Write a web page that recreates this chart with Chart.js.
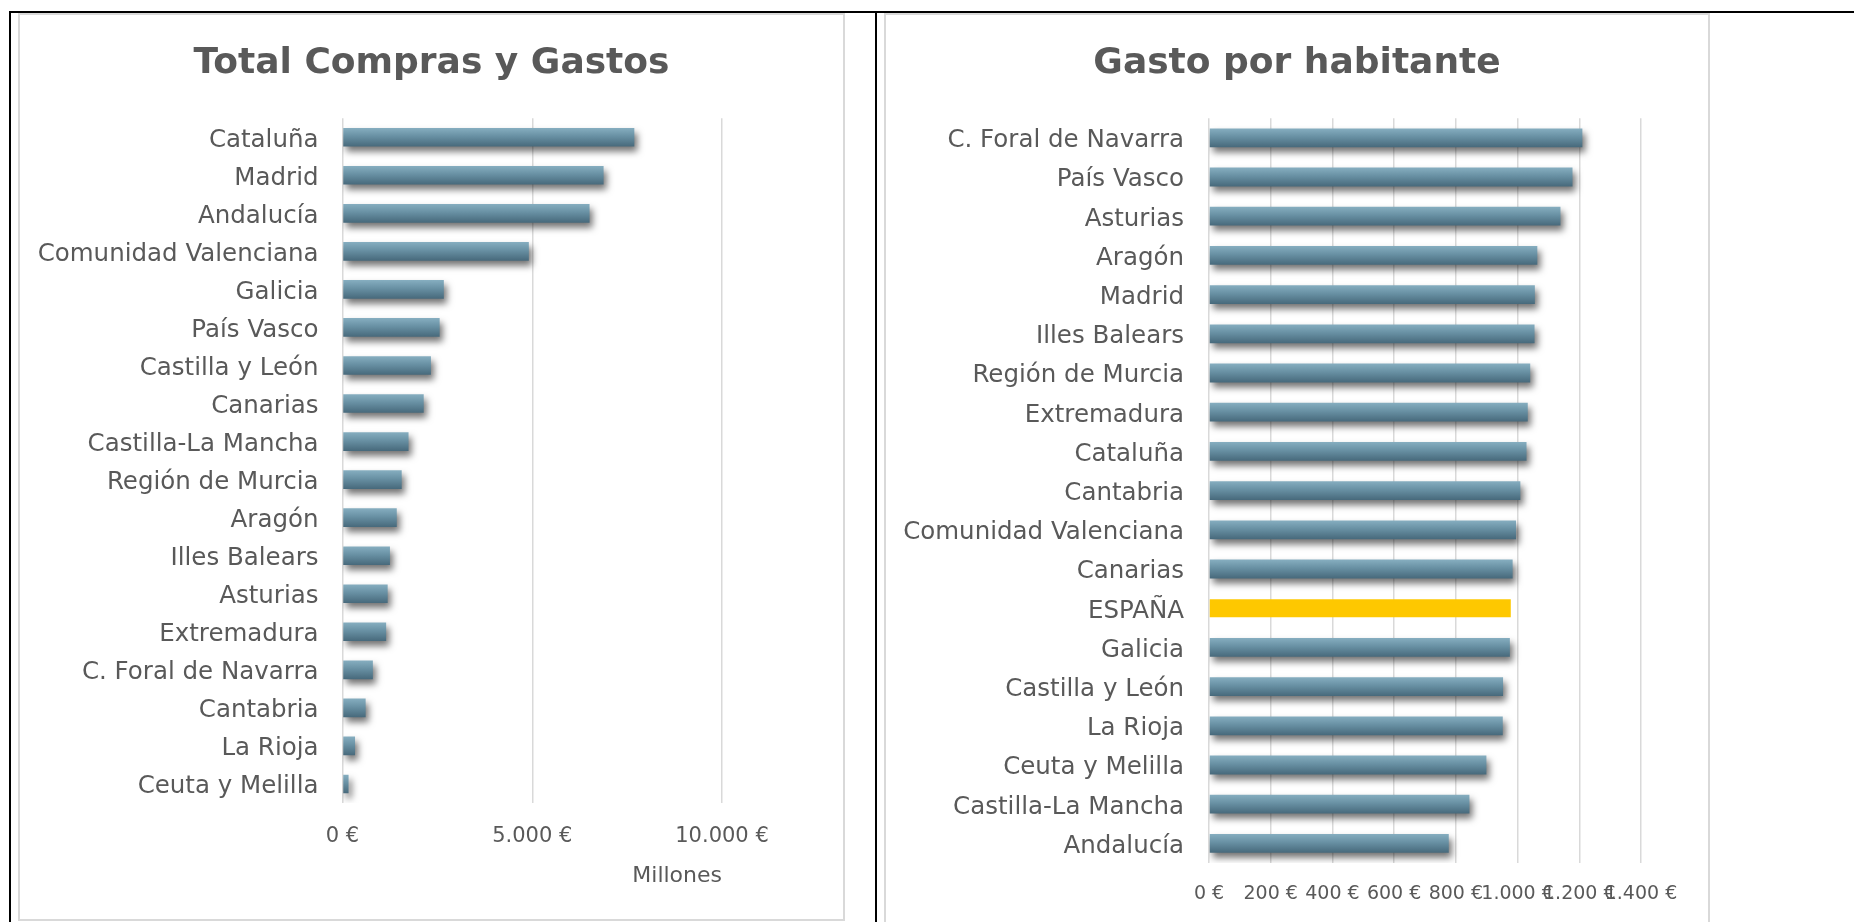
<!DOCTYPE html>
<html>
<head>
<meta charset="utf-8">
<script src="https://cdn.jsdelivr.net/npm/chart.js@4"></script>
<style>
  html, body { margin: 0; padding: 0; background: #fff; overflow: hidden; }
  body { width: 1854px; height: 922px; position: relative; }
  .rule { position: absolute; background: #000; }
  .box { position: absolute; border: 2px solid #d9d9d9; box-sizing: border-box; background: #fff; }
</style>
</head>
<body>
<div class="rule" style="left:9px; top:11px; width:1845px; height:2px;"></div>
<div class="rule" style="left:9px; top:11px; width:2px; height:911px;"></div>
<div class="rule" style="left:875px; top:11px; width:2px; height:911px;"></div>

<div class="box" style="left:18px; top:13px; width:827px; height:908px;">
  <canvas id="totalChart"></canvas>
</div>
<div class="box" style="left:884px; top:13px; width:826px; height:914px;">
  <canvas id="habChart"></canvas>
</div>

<script>
// Total compras y gastos (millones de euros)
const totalRegions = ['Cataluña', 'Madrid', 'Andalucía', 'Comunidad Valenciana', 'Galicia', 'País Vasco',
  'Castilla y León', 'Canarias', 'Castilla-La Mancha', 'Región de Murcia', 'Aragón', 'Illes Balears',
  'Asturias', 'Extremadura', 'C. Foral de Navarra', 'Cantabria', 'La Rioja', 'Ceuta y Melilla'];
const totalMillones = [7690, 6880, 6510, 4910, 2670, 2560, 2330, 2140, 1740, 1560, 1430, 1250,
  1190, 1150, 800, 610, 330, 160];
const totalTicks = [0, 5000, 10000];

// Gasto por habitante (euros)
const habRegions = ['C. Foral de Navarra', 'País Vasco', 'Asturias', 'Aragón', 'Madrid', 'Illes Balears',
  'Región de Murcia', 'Extremadura', 'Cataluña', 'Cantabria', 'Comunidad Valenciana', 'Canarias',
  'ESPAÑA', 'Galicia', 'Castilla y León', 'La Rioja', 'Ceuta y Melilla', 'Castilla-La Mancha', 'Andalucía'];
const habGasto = [1210, 1178, 1139, 1064, 1056, 1055, 1041, 1033, 1029, 1009, 995, 984,
  978, 975, 953, 952, 899, 844, 777];
const habTicks = [0, 200, 400, 600, 800, 1000, 1200, 1400];

const highlight = 'ESPAÑA';

Chart.defaults.font.family = "'DejaVu Sans', sans-serif";
Chart.defaults.color = '#595959';

function euro(v) {
  return String(v).replace(/\B(?=(\d{3})+(?!\d))/g, '.') + ' €';
}

// blue bars get a vertical gradient fitted to each bar
function blueFill(pct) {
  return function (ctx) {
    const chart = ctx.chart;
    const y = chart.scales.y;
    if (!chart.chartArea || !y) return '#628a9d';
    const c = y.getPixelForValue(ctx.dataIndex);
    const h = (y.height / chart.data.labels.length) * pct;
    const g = chart.ctx.createLinearGradient(0, c - h / 2, 0, c + h / 2);
    g.addColorStop(0, '#86aec0');
    g.addColorStop(0.45, '#6890a3');
    g.addColorStop(1, '#47697b');
    return g;
  };
}

// soft drop shadow under the blue bars only
const barShadow = {
  id: 'barShadow',
  beforeDatasetDraw(chart, args) {
    if (args.index !== 0) return;
    const c = chart.ctx;
    c.save();
    c.shadowColor = 'rgba(0,0,0,0.55)';
    c.shadowBlur = 7;
    c.shadowOffsetX = 3;
    c.shadowOffsetY = 5;
  },
  afterDatasetDraw(chart, args) {
    if (args.index === 0) chart.ctx.restore();
  }
};

function makeChart(id, o) {
  const blue = o.values.map((v, i) => o.labels[i] === highlight ? null : v);
  const gold = o.values.map((v, i) => o.labels[i] === highlight ? v : null);
  const xScale = {
    stacked: true,
    min: o.ticks[0],
    max: o.ticks[o.ticks.length - 1],
    afterFit(s) { s.height = o.xHeight; },
    ticks: {
      stepSize: o.ticks[1] - o.ticks[0],
      autoSkip: false,
      maxRotation: 0,
      minRotation: 0,
      padding: o.tickPad,
      font: { size: o.tickSize },
      callback: v => euro(v)
    },
    grid: { color: '#d9d9d9', lineWidth: 1.5, drawTicks: false },
    border: { display: false }
  };
  if (o.axisTitle) {
    xScale.title = {
      display: true, text: o.axisTitle, align: 'end',
      font: { size: 22 }, padding: { top: 0, bottom: 30 }
    };
  }
  return new Chart(document.getElementById(id), {
    type: 'bar',
    data: {
      labels: o.labels,
      datasets: [
        { data: blue, backgroundColor: blueFill(o.pct), borderWidth: 0,
          barPercentage: o.pct, categoryPercentage: 1 },
        { data: gold, backgroundColor: '#fec800', borderWidth: 0,
          barPercentage: o.pct * 0.96, categoryPercentage: 1 }
      ]
    },
    options: {
      indexAxis: 'y',
      responsive: true,
      maintainAspectRatio: false,
      animation: false,
      layout: { padding: 0 },
      scales: {
        x: xScale,
        y: {
          stacked: true,
          afterFit(s) { s.width = o.yWidth; },
          ticks: { autoSkip: false, padding: o.labelPad, labelOffset: 3, font: { size: 24.5 } },
          grid: { display: false, drawTicks: false },
          border: { display: false }
        },
        // empty right-hand axis that only reserves the white margin
        gap: {
          type: 'linear',
          position: 'right',
          afterFit(s) { s.width = o.rightGap; },
          ticks: { display: false },
          grid: { display: false },
          border: { display: false }
        }
      },
      plugins: {
        legend: { display: false },
        tooltip: { enabled: false },
        title: {
          display: true,
          text: o.title,
          color: '#595959',
          font: { size: 36, weight: 'bold' },
          padding: { top: 27, bottom: 33 }
        }
      }
    },
    plugins: [barShadow]
  });
}

makeChart('totalChart', {
  title: 'Total Compras y Gastos',
  labels: totalRegions, values: totalMillones, ticks: totalTicks,
  axisTitle: 'Millones',
  pct: 0.49, yWidth: 322.5, rightGap: 121, labelPad: 24,
  xHeight: 116, tickPad: 21, tickSize: 21
});

makeChart('habChart', {
  title: 'Gasto por habitante',
  labels: habRegions, values: habGasto, ticks: habTicks,
  pct: 0.48, yWidth: 323, rightGap: 67, labelPad: 25,
  xHeight: 62, tickPad: 20, tickSize: 19
});
</script>
</body>
</html>
